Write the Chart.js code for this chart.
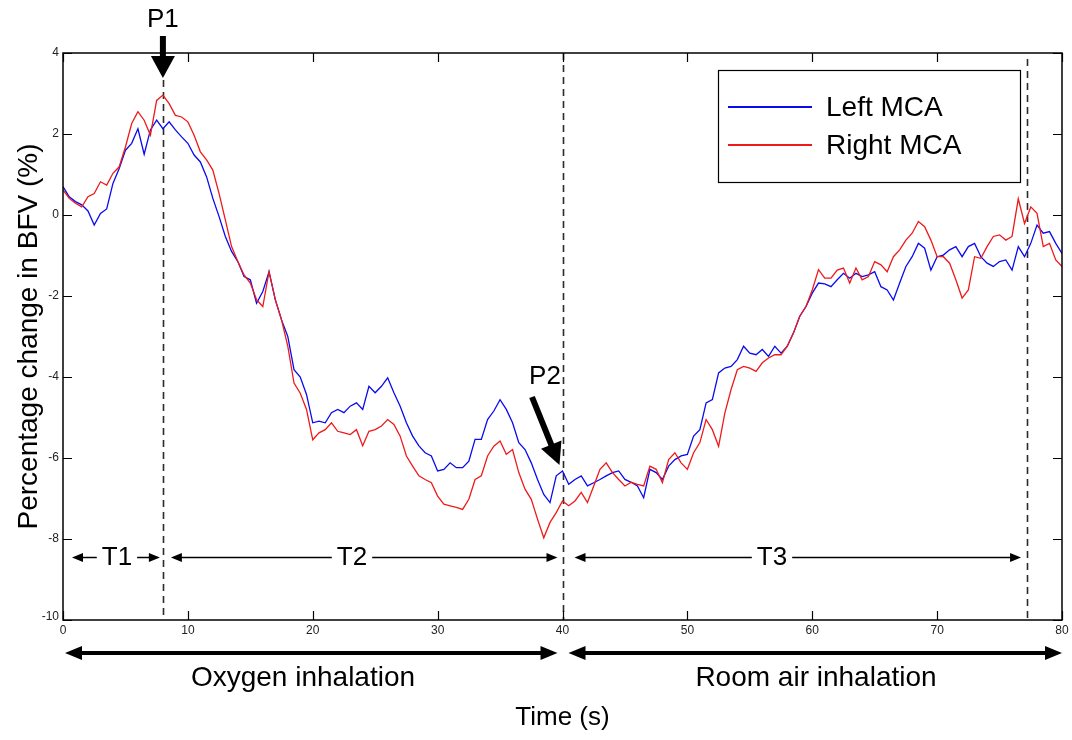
<!DOCTYPE html>
<html>
<head>
<meta charset="utf-8">
<script src="https://cdn.jsdelivr.net/npm/chart.js@4/dist/chart.umd.min.js"></script>
<style>
  html, body { margin: 0; padding: 0; background: #ffffff; }
  #c { display: block; }
</style>
</head>
<body>
<canvas id="c" width="1072" height="740"></canvas>
<script>
const sampleStepSec = 0.5;
const leftMCA = [
  0.70,0.45,0.33,0.25,0.10,-0.25,0.04,0.15,0.78,1.15,
  1.60,1.77,2.13,1.50,2.10,2.34,2.13,2.30,2.10,1.93,
  1.77,1.48,1.31,0.94,0.41,-0.04,-0.53,-0.90,-1.15,-1.52,
  -1.60,-2.18,-1.89,-1.40,-2.09,-2.59,-3.00,-3.82,-4.00,-4.43,
  -5.13,-5.09,-5.13,-4.88,-4.80,-4.88,-4.72,-4.64,-4.80,-4.23,
  -4.39,-4.23,-4.02,-4.39,-4.72,-5.13,-5.46,-5.70,-5.87,-5.95,
  -6.32,-6.28,-6.12,-6.24,-6.24,-6.08,-5.54,-5.54,-5.05,-4.84,
  -4.56,-4.80,-5.13,-5.62,-5.79,-6.12,-6.53,-6.90,-7.10,-6.44,
  -6.32,-6.65,-6.53,-6.44,-6.69,-6.61,-6.53,-6.44,-6.36,-6.32,
  -6.53,-6.60,-6.69,-6.98,-6.28,-6.36,-6.53,-6.20,-6.04,-5.95,
  -5.91,-5.46,-5.30,-4.64,-4.56,-3.90,-3.78,-3.74,-3.57,-3.24,
  -3.41,-3.45,-3.32,-3.49,-3.24,-3.41,-3.24,-2.91,-2.50,-2.26,
  -1.93,-1.68,-1.70,-1.77,-1.60,-1.44,-1.56,-1.44,-1.52,-1.48,
  -1.40,-1.77,-1.85,-2.10,-1.68,-1.27,-1.03,-0.70,-0.82,-1.36,
  -1.03,-0.99,-0.86,-0.78,-1.03,-0.78,-0.70,-1.03,-1.19,-1.27,
  -1.15,-1.11,-1.36,-0.78,-1.03,-0.70,-0.25,-0.45,-0.41,-0.70,
  -0.95
];
const rightMCA = [
  0.62,0.41,0.29,0.20,0.45,0.53,0.82,0.74,1.03,1.19,
  1.68,2.26,2.55,2.34,1.97,2.83,2.96,2.75,2.46,2.42,
  2.30,1.97,1.56,1.36,1.11,0.53,-0.12,-0.78,-1.15,-1.48,
  -1.68,-2.09,-2.26,-1.40,-2.09,-2.59,-3.24,-4.15,-4.40,-4.80,
  -5.55,-5.38,-5.30,-5.13,-5.34,-5.38,-5.42,-5.30,-5.70,-5.34,
  -5.30,-5.21,-5.05,-5.17,-5.46,-5.95,-6.20,-6.44,-6.53,-6.61,
  -6.94,-7.14,-7.18,-7.22,-7.27,-7.02,-6.53,-6.44,-5.95,-5.71,
  -5.58,-5.91,-5.79,-6.36,-6.77,-7.02,-7.51,-7.97,-7.59,-7.35,
  -7.06,-7.18,-7.06,-6.85,-7.10,-6.69,-6.28,-6.12,-6.36,-6.53,
  -6.69,-6.60,-6.65,-6.69,-6.20,-6.28,-6.61,-6.04,-5.87,-6.12,
  -6.28,-5.87,-5.62,-5.05,-5.30,-5.71,-4.89,-4.31,-3.82,-3.74,
  -3.78,-3.86,-3.65,-3.53,-3.45,-3.45,-3.24,-2.91,-2.50,-2.26,
  -1.85,-1.35,-1.56,-1.56,-1.36,-1.31,-1.68,-1.31,-1.60,-1.52,
  -1.15,-1.23,-1.40,-1.03,-0.86,-0.62,-0.45,-0.16,-0.29,-0.62,
  -1.03,-1.03,-1.19,-1.60,-2.05,-1.85,-1.03,-1.07,-0.78,-0.53,
  -0.49,-0.62,-0.53,0.40,-0.21,0.20,0.04,-0.78,-0.70,-1.11,
  -1.27
];
const seriesNames = ['Left MCA', 'Right MCA'];
const xTickValues = [0, 10, 20, 30, 40, 50, 60, 70, 80];
const yTickValues = [-10, -8, -6, -4, -2, 0, 2, 4];
const markerTimes = [8, 40, 77.2];          // dashed vertical markers (s)
const phaseBounds = [0, 8, 40, 77.2];       // T1, T2, T3 spans (s)
const phaseNames = ['T1', 'T2', 'T3'];
const peakNames = ['P1', 'P2'];
const periodBounds = [0, 40, 80];
const periodNames = ['Oxygen inhalation', 'Room air inhalation'];
const xTitle = 'Time (s)';
const yTitle = 'Percentage change in BFV (%)';

const toPoints = arr => arr.map((v, i) => ({ x: i * sampleStepSec, y: v }));

const FONT = '"Liberation Sans", Arial, sans-serif';

function arrowHead(ctx, tipX, tipY, dx, dy, len, half) {
  const L = Math.hypot(dx, dy); const ux = dx / L, uy = dy / L;
  const bx = tipX - ux * len, by = tipY - uy * len;
  ctx.beginPath();
  ctx.moveTo(tipX, tipY);
  ctx.lineTo(bx - uy * half, by + ux * half);
  ctx.lineTo(bx + uy * half, by - ux * half);
  ctx.closePath();
  ctx.fill();
}

const overlay = {
  id: 'overlay',
  beforeDatasetsDraw(chart) {
    const ctx = chart.ctx, xs = chart.scales.x, ca = chart.chartArea;
    ctx.save();
    ctx.strokeStyle = '#2a2a2a';
    ctx.lineWidth = 1.6;
    ctx.setLineDash([7, 5]);
    const tops = [80, ca.top, ca.top + 6];
    markerTimes.forEach((t, i) => {
      const x = Math.round(xs.getPixelForValue(t)) + 0.5;
      ctx.beginPath(); ctx.moveTo(x, tops[i]); ctx.lineTo(x, ca.bottom); ctx.stroke();
    });
    ctx.restore();
  },
  afterDraw(chart) {
    const ctx = chart.ctx, xs = chart.scales.x, ys = chart.scales.y, ca = chart.chartArea;
    ctx.save();
    // frame
    ctx.strokeStyle = '#000'; ctx.lineWidth = 1.5; ctx.setLineDash([]);
    ctx.strokeRect(ca.left, ca.top, ca.right - ca.left, ca.bottom - ca.top);
    // inward ticks on all four sides
    ctx.lineWidth = 1.2;
    const TL = 9;
    xTickValues.forEach(v => {
      const x = Math.round(xs.getPixelForValue(v)) + 0.5;
      ctx.beginPath();
      ctx.moveTo(x, ca.bottom); ctx.lineTo(x, ca.bottom - TL);
      ctx.moveTo(x, ca.top); ctx.lineTo(x, ca.top + TL);
      ctx.stroke();
    });
    yTickValues.forEach(v => {
      const y = Math.round(ys.getPixelForValue(v)) + 0.5;
      ctx.beginPath();
      ctx.moveTo(ca.left, y); ctx.lineTo(ca.left + TL, y);
      ctx.moveTo(ca.right, y); ctx.lineTo(ca.right - TL, y);
      ctx.stroke();
    });
    // tick labels
    ctx.fillStyle = '#222';
    ctx.font = '12px ' + FONT;
    ctx.textAlign = 'center'; ctx.textBaseline = 'top';
    xTickValues.forEach(v => ctx.fillText(String(v), xs.getPixelForValue(v), ca.bottom + 5));
    ctx.textAlign = 'right'; ctx.textBaseline = 'middle';
    yTickValues.forEach(v => {
      const y = ys.getPixelForValue(v);
      ctx.fillText(String(v), ca.left - 4, v === yTickValues[0] ? y - 3 : y);
    });

    // axis titles
    ctx.fillStyle = '#000';
    ctx.font = '26px ' + FONT;
    ctx.textAlign = 'center'; ctx.textBaseline = 'middle';
    ctx.fillText(xTitle, (ca.left + ca.right) / 2, 718);
    ctx.save();
    ctx.translate(29, (ca.top + ca.bottom) / 2);
    ctx.rotate(-Math.PI / 2);
    ctx.font = '28px ' + FONT;
    ctx.fillText(yTitle, 0, 0);
    ctx.restore();

    // T1/T2/T3 spans
    const ty = 557;
    ctx.lineWidth = 1.4; ctx.strokeStyle = '#000'; ctx.fillStyle = '#000';
    const tOffsets = [[9, -3], [8, -5], [12, -6]];
    for (let i = 0; i < phaseNames.length; i++) {
      const x0 = xs.getPixelForValue(phaseBounds[i]) + tOffsets[i][0];
      const x1 = xs.getPixelForValue(phaseBounds[i + 1]) + tOffsets[i][1];
      const mid = i === 0 ? (x0 + x1) / 2 + 1 : (i === 1 ? 352 : 772);
      ctx.font = '26px ' + FONT;
      const w = ctx.measureText(phaseNames[i]).width;
      ctx.beginPath();
      ctx.moveTo(x0 + 6, ty + 0.5); ctx.lineTo(mid - w / 2 - 5, ty + 0.5);
      ctx.moveTo(mid + w / 2 + 5, ty + 0.5); ctx.lineTo(x1 - 6, ty + 0.5);
      ctx.stroke();
      arrowHead(ctx, x0, ty + 0.5, -1, 0, 11, 4.5);
      arrowHead(ctx, x1, ty + 0.5, 1, 0, 11, 4.5);
      ctx.fillText(phaseNames[i], mid, ty + 1);
    }

    // period arrows
    const py = 653;
    ctx.lineWidth = 4;
    for (let i = 0; i < periodNames.length; i++) {
      const x0 = xs.getPixelForValue(periodBounds[i]) + (i === 0 ? 2 : 6);
      const x1 = xs.getPixelForValue(periodBounds[i + 1]) + (i === 0 ? -5 : 0);
      ctx.beginPath(); ctx.moveTo(x0 + 10, py); ctx.lineTo(x1 - 10, py); ctx.stroke();
      arrowHead(ctx, x0, py, -1, 0, 17, 7);
      arrowHead(ctx, x1, py, 1, 0, 17, 7);
      ctx.font = '28px ' + FONT;
      ctx.fillText(periodNames[i], i === 0 ? 303 : 816, 678);
    }

    // P1 arrow
    const p1x = xs.getPixelForValue(markerTimes[0]);
    ctx.lineWidth = 6;
    ctx.beginPath(); ctx.moveTo(p1x, 36); ctx.lineTo(p1x, 62); ctx.stroke();
    arrowHead(ctx, p1x, 78, 0, 1, 22, 12);
    ctx.font = '26px ' + FONT;
    ctx.fillText(peakNames[0], p1x, 20);
    // P2 arrow
    const p2x = xs.getPixelForValue(markerTimes[1]) - 3;
    const tip = [p2x, 465], tail = [532, 397];
    const dx = tip[0] - tail[0], dy = tip[1] - tail[1];
    const L = Math.hypot(dx, dy);
    ctx.lineWidth = 6;
    ctx.beginPath(); ctx.moveTo(tail[0], tail[1]);
    ctx.lineTo(tip[0] - dx / L * 18, tip[1] - dy / L * 18); ctx.stroke();
    arrowHead(ctx, tip[0], tip[1], dx, dy, 22, 11);
    ctx.fillText(peakNames[1], 545, 377);

    // legend
    const lx = 718, ly = 70, lw = 302, lh = 112;
    ctx.fillStyle = '#fff';
    ctx.fillRect(lx, ly, lw, lh);
    ctx.lineWidth = 1.2; ctx.strokeStyle = '#000';
    ctx.strokeRect(lx + 0.5, ly + 0.5, lw, lh);
    ctx.textAlign = 'left';
    chart.data.datasets.forEach((ds, i) => {
      const yy = i === 0 ? 107 : 145;
      ctx.strokeStyle = ds.borderColor; ctx.lineWidth = 2;
      ctx.beginPath(); ctx.moveTo(728, yy); ctx.lineTo(812, yy); ctx.stroke();
      ctx.fillStyle = '#000';
      ctx.font = '28px ' + FONT;
      ctx.fillText(ds.label, 826, yy + 1);
    });
    ctx.restore();
  }
};

new Chart(document.getElementById('c'), {
  type: 'line',
  data: {
    datasets: [
      { label: seriesNames[0], data: toPoints(leftMCA), borderColor: '#0a0aee', borderWidth: 1.3, order: 1 },
      { label: seriesNames[1], data: toPoints(rightMCA), borderColor: '#ee1a1a', borderWidth: 1.3, order: 0 }
    ]
  },
  options: {
    responsive: false,
    animation: false,
    layout: { padding: { left: 63, right: 10, top: 53, bottom: 120 } },
    elements: { point: { radius: 0 }, line: { tension: 0 } },
    plugins: { legend: { display: false }, tooltip: { enabled: false } },
    scales: {
      x: { type: 'linear', min: 0, max: 80, display: false },
      y: { type: 'linear', min: -10, max: 4, display: false }
    }
  },
  plugins: [overlay]
});
</script>
</body>
</html>
